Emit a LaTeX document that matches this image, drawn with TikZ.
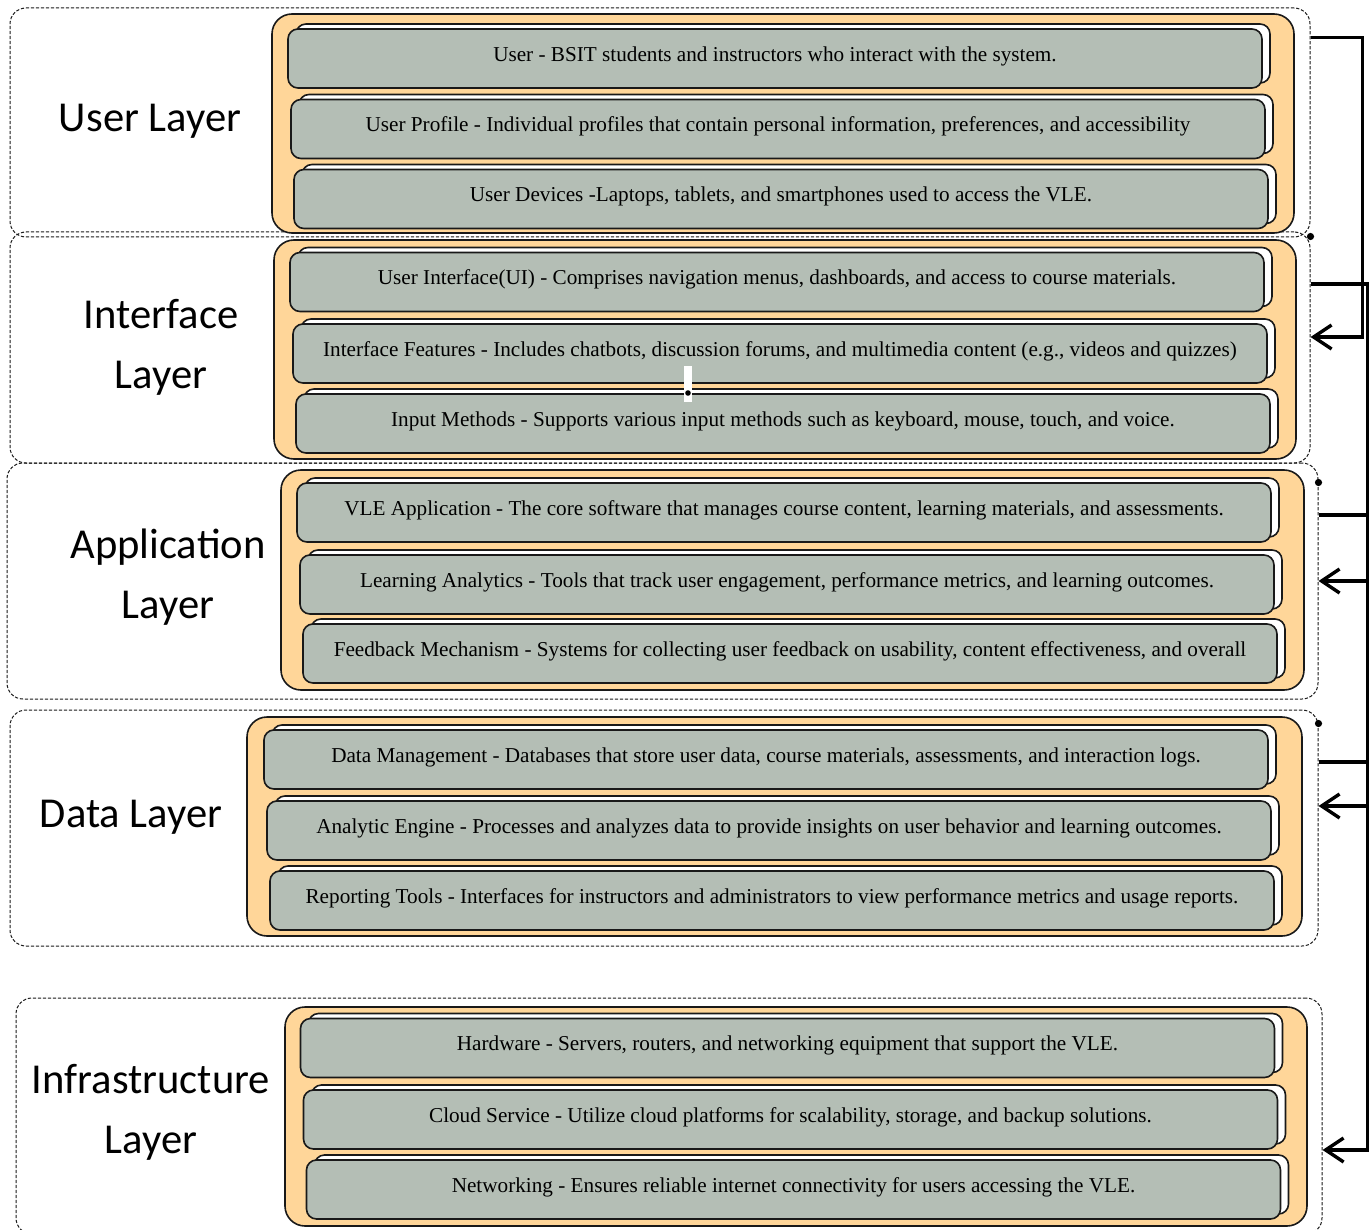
\documentclass[tikz,border=0pt]{standalone}
\usepackage{fontspec}
\setmainfont{Liberation Serif}
\newfontfamily\labelfont{Carlito}
\usetikzlibrary{arrows.meta,shadows}
\definecolor{peach}{RGB}{255,214,153}
\definecolor{sage}{RGB}{180,190,181}
\definecolor{ink}{RGB}{25,25,25}
\tikzset{
  >={Straight Barb[length=9pt,width=12pt]},
  zone/.style={draw=ink,line width=0.5pt,dash pattern=on 1.6pt off 0.9pt,rounded corners=8pt},
  panel/.style={draw=ink,fill=peach,line width=0.8pt,rounded corners=10pt,
    minimum width=511pt,minimum height=109.5pt},
  item/.style={draw=ink,fill=sage,line width=0.8pt,rounded corners=5pt,
    minimum width=487pt,minimum height=29.5pt,font=\fontsize{10.6}{13}\selectfont,
    text height=6.2pt,text depth=3.6pt,
    copy shadow={shadow xshift=4pt,shadow yshift=2.5pt,fill=white,draw=ink,line width=0.8pt}},
  tag/.style={font=\labelfont\fontsize{21.3}{30}\selectfont,align=center},
  flow/.style={->,line width=1.7pt,draw=black},
}
\begin{document}
\begin{tikzpicture}[x=0.5pt,y=-0.5pt]
  \useasboundingbox (0,0) rectangle (1370,1230);
  % dashed layer frames
  \node[zone,minimum width=650pt,minimum height=114.5pt] (fuser) at (660,122.5) {};
  \node[zone,minimum width=650pt,minimum height=115.5pt] (finter) at (660,347.5) {};
  \node[zone,minimum width=655.5pt,minimum height=118pt] (fapp) at (662.5,581) {};
  \node[zone,minimum width=654pt,minimum height=118pt] (fdata) at (664,828) {};
  \node[zone,minimum width=653pt,minimum height=118pt] (finfra) at (669,1116) {};
  % layer names
  \node[tag] (tuser) at (150,121) {User Layer};
  \node[tag] (tinter) at (161,347) {Interface\\Layer};
  \node[tag] (tapp) at (168,577) {Application\\Layer};
  \node[tag] (tdata) at (131,817) {Data Layer};
  \node[tag] (tinfra) at (151,1112) {Infrastructure\\Layer};
  % user layer
  \node[panel] (puser) at (783,123.5) {};
  \node[item] (u1) at (775,58.5) {User - BSIT students and instructors who interact with the system.};
  \node[item] (u2) at (778,129) {User Profile - Individual profiles that contain personal information, preferences, and accessibility};
  \node[item] (u3) at (781,199) {User Devices -Laptops, tablets, and smartphones used to access the VLE.};
  % interface layer
  \node[panel] (pinter) at (785,349.5) {};
  \node[item] (i1) at (777,282) {User Interface(UI) - Comprises navigation menus, dashboards, and access to course materials.};
  \node[item] (i2) at (780,353.5) {Interface Features - Includes chatbots, discussion forums, and multimedia content (e.g., videos and quizzes)};
  \node[item] (i3) at (783,423.5) {Input Methods - Supports various input methods such as keyboard, mouse, touch, and voice.};
  \fill[white] (684,366) rectangle (692,402);
  \fill (688,393) circle (1.4pt);
  % application layer
  \node[panel,minimum width=511.5pt,minimum height=110pt] (papp) at (792.5,580) {};
  \node[item] (a1) at (784,512.5) {VLE Application - The core software that manages course content, learning materials, and assessments.};
  \node[item] (a2) at (787,584.5) {Learning Analytics - Tools that track user engagement, performance metrics, and learning outcomes.};
  \node[item] (a3) at (790,653.5) {Feedback Mechanism - Systems for collecting user feedback on usability, content effectiveness, and overall};
  % data layer
  \node[panel,minimum width=527.5pt] (pdata) at (774.5,826.5) {};
  \node[item,minimum width=502pt] (d1) at (766,759.5) {Data Management - Databases that store user data, course materials, assessments, and interaction logs.};
  \node[item,minimum width=502pt] (d2) at (769,830.5) {Analytic Engine - Processes and analyzes data to provide insights on user behavior and learning outcomes.};
  \node[item,minimum width=502pt] (d3) at (772,900.5) {Reporting Tools - Interfaces for instructors and administrators to view performance metrics and usage reports.};
  % infrastructure layer
  \node[panel] (pinfra) at (796,1116.5) {};
  \node[item] (n1) at (787.5,1048) {Hardware - Servers, routers, and networking equipment that support the VLE.};
  \node[item] (n2) at (790.5,1119.5) {Cloud Service - Utilize cloud platforms for scalability, storage, and backup solutions.};
  \node[item] (n3) at (793.5,1189.5) {Networking - Ensures reliable internet connectivity for users accessing the VLE.};
  % connectors down the right side
  \draw[flow] ([yshift=-15pt]fuser.north east) -- ++(26pt,0) |- ([yshift=5.25pt]finter.east);
  \draw[flow] ([yshift=31.75pt]finter.east) -- ++(28.5pt,0) |- (fapp.east);
  \draw[flow] ([yshift=33pt]fapp.east) -- ++(24.5pt,0) |- ([yshift=11pt]fdata.east);
  \draw[flow] ([yshift=33pt]fdata.east) -- ++(24.5pt,0) |- ([yshift=-17pt]finfra.east);
  \fill ([yshift=-2.5pt]finter.north east) circle (1.8pt);
  \fill ([yshift=-10pt]fapp.north east) circle (1.8pt);
  \fill ([yshift=-7pt]fdata.north east) circle (1.8pt);
\end{tikzpicture}
\end{document}
